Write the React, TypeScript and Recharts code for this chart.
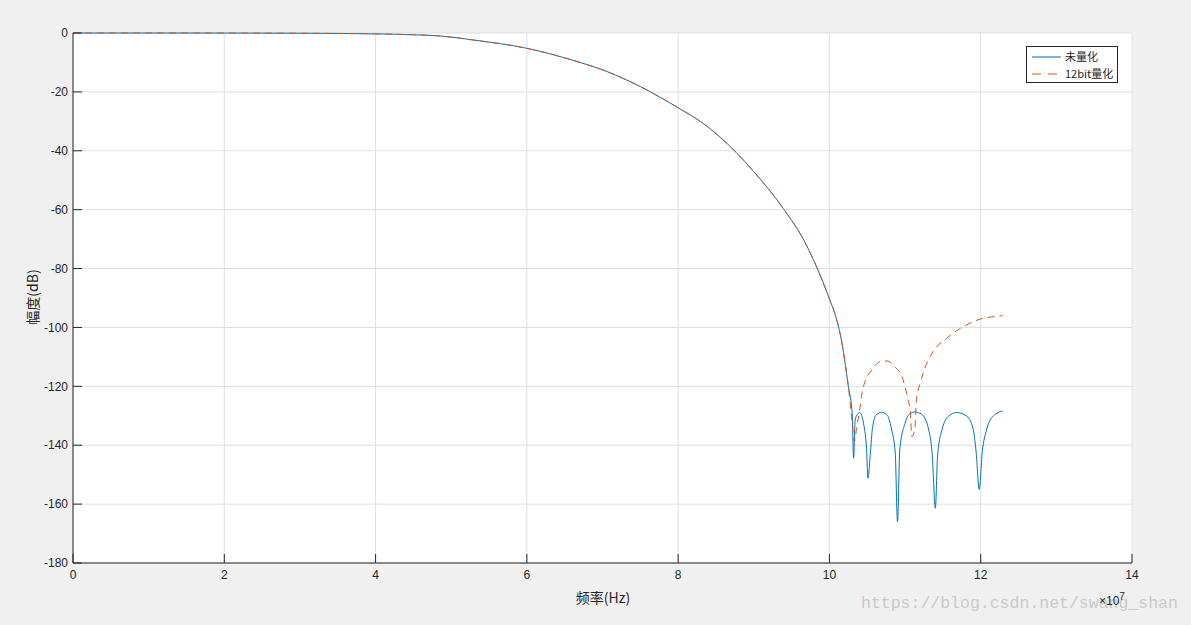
import React from "react";
import { LineChart, Line, XAxis, YAxis, CartesianGrid } from "recharts";

// frequency in units of 1e7 Hz, magnitude in dB
const FREQ_RAW = [
  0, 1, 2, 3, 3.5, 4, 4.5, 4.85, 5.3, 6, 6.6, 7.06, 7.5, 8, 8.33, 8.69, 9, 9.39, 9.66, 9.83, 10, 10.08, 10.15,
  10.25, 10.3, 10.32,
  10.34, 10.37, 10.4, 10.45, 10.49, 10.51, 10.54, 10.57, 10.62, 10.69, 10.76, 10.82, 10.87, 10.9, 10.93,
  11.0, 11.07, 11.13, 11.22, 11.31, 11.36, 11.4, 11.43, 11.49, 11.58, 11.68, 11.81, 11.9, 11.94, 11.98,
  12.02, 12.08, 12.17, 12.29,
];
const DB_RAW = [
  0, 0, -0.02, -0.08, -0.15, -0.3, -0.6, -1.0, -2.4, -5.2, -9.2, -13.1, -18.2, -25.4, -30.7, -38.6, -47.1,
  -59.6, -70.3, -79.4, -90.3, -96, -103.2,
  -120, -129, -144.4,
  -131.4, -129.5, -128.9, -132.5, -141, -151.2, -143, -134, -129.6, -128.9, -129.6, -134.5, -142.6, -166,
  -141.5, -132.5, -129.2, -128.7, -129.5, -134.5, -143.6, -161.4, -143.6, -134.5, -130, -128.9, -130,
  -134.5, -142.5, -155, -142.5, -134.5, -130, -128.4,
];

const FREQ_Q12 = [
  0, 1, 2, 3, 3.5, 4, 4.5, 4.85, 5.3, 6, 6.6, 7.06, 7.5, 8, 8.33, 8.69, 9, 9.39, 9.66, 9.83, 10, 10.08, 10.15,
  10.25, 10.3, 10.33,
  10.36, 10.4, 10.43, 10.47, 10.56, 10.67, 10.76, 10.87, 10.96, 11.01, 11.04, 11.07, 11.09, 11.13, 11.15,
  11.2, 11.26, 11.37, 11.55, 11.77, 11.99, 12.26, 12.29,
];
const DB_Q12 = [
  0, 0, -0.02, -0.08, -0.15, -0.3, -0.6, -1.0, -2.4, -5.2, -9.2, -13.1, -18.2, -25.4, -30.7, -38.6, -47.1,
  -59.6, -70.3, -79.4, -90.3, -96, -103.2,
  -120, -132, -138.8,
  -134, -128, -122.3, -118.4, -114.5, -111.6, -111.4, -113.5, -116.7, -121.2, -124.6, -129.2, -137.1, -134.3,
  -124.6, -119, -113.9, -108.2, -103.7, -99.7, -97.2, -96.1, -96.0,
];

const X_TICKS = [0, 2, 4, 6, 8, 10, 12, 14];
const Y_TICKS = [-180, -160, -140, -120, -100, -80, -60, -40, -20, 0];

const SERIES_NAMES = ["未量化", "12bit量化"];

const BLUE = "#0072BD";
const ORANGE = "#D95319";
const AXIS = "#262626";

const rawData = FREQ_RAW.map((f, i) => ({ f, db: DB_RAW[i] }));
const q12Data = FREQ_Q12.map((f, i) => ({ f, db: DB_Q12[i] }));

const tickFont = { fontSize: 12, fill: AXIS, fontFamily: "Liberation Sans, Arial, sans-serif" };

function LegendBox() {
  return (
    <div
      style={{
        position: "absolute",
        left: 1026,
        top: 46,
        width: 92,
        height: 37,
        background: "#fff",
        border: `1px solid ${AXIS}`,
        boxSizing: "border-box",
        fontFamily: "Noto Sans CJK SC, sans-serif",
        fontSize: 11,
        color: AXIS,
        padding: "1px 0 0 4px",
      }}
    >
      {SERIES_NAMES.map((name, i) => (
        <div key={name} style={{ display: "flex", alignItems: "center", height: 17 }}>
          <svg width={30} height={10}>
            <line
              x1={1}
              y1={5}
              x2={30}
              y2={5}
              stroke={i === 0 ? BLUE : ORANGE}
              strokeWidth={1}
              strokeDasharray={i === 0 ? undefined : "9 7"}
            />
          </svg>
          <span style={{ marginLeft: 4, lineHeight: "17px" }}>{name}</span>
        </div>
      ))}
    </div>
  );
}

export default function App() {
  return (
    <div
      style={{
        position: "absolute",
        left: 0,
        top: 0,
        width: 1191,
        height: 625,
        background: "#f0f0f0",
        overflow: "hidden",
      }}
    >
      <LineChart width={1191} height={625} margin={{ top: 33, right: 59, left: 13, bottom: 32 }}>
        <CartesianGrid fill="#fff" stroke="#dfdfdf" strokeWidth={1} />
        <XAxis
          type="number"
          dataKey="f"
          domain={[0, 14]}
          ticks={X_TICKS}
          allowDataOverflow
          height={30}
          stroke={AXIS}
          tickSize={-9}
          tickMargin={16}
          tick={tickFont}
        />
        <XAxis
          xAxisId="top"
          orientation="top"
          type="number"
          dataKey="f"
          domain={[0, 14]}
          ticks={X_TICKS}
          height={0}
          stroke={AXIS}
          tickSize={-9}
          tickFormatter={() => ""}
        />
        <YAxis
          type="number"
          domain={[-180, 0]}
          ticks={Y_TICKS}
          width={60}
          stroke={AXIS}
          tickSize={-9}
          tickMargin={14}
          tick={tickFont}
        />
        <YAxis
          yAxisId="right"
          orientation="right"
          type="number"
          domain={[-180, 0]}
          ticks={Y_TICKS}
          width={0}
          stroke={AXIS}
          tickSize={-9}
          tickFormatter={() => ""}
        />
        <Line
          data={rawData}
          type="monotone"
          dataKey="db"
          name={SERIES_NAMES[0]}
          stroke={BLUE}
          strokeWidth={1}
          dot={false}
          isAnimationActive={false}
        />
        <Line
          data={q12Data}
          type="monotone"
          dataKey="db"
          name={SERIES_NAMES[1]}
          stroke={ORANGE}
          strokeWidth={1}
          strokeDasharray="7 5"
          dot={false}
          isAnimationActive={false}
        />
      </LineChart>

      <LegendBox />

      <div
        style={{
          position: "absolute",
          left: 553,
          top: 587,
          width: 100,
          textAlign: "center",
          fontFamily: "Noto Sans CJK SC, sans-serif",
          fontSize: 14,
          color: AXIS,
        }}
      >
        频率(Hz)
      </div>
      <div
        style={{
          position: "absolute",
          left: -18,
          top: 287,
          width: 100,
          textAlign: "center",
          transform: "rotate(-90deg)",
          fontFamily: "Noto Sans CJK SC, sans-serif",
          fontSize: 14,
          color: AXIS,
        }}
      >
        幅度(dB)
      </div>
      <div
        style={{
          position: "absolute",
          left: 861,
          top: 594,
          fontFamily: "Liberation Mono, monospace",
          fontSize: 16.5,
          color: "#c9c9c9",
          whiteSpace: "nowrap",
        }}
      >
        https://blog.csdn.net/swang_shan
      </div>
      <div
        style={{
          position: "absolute",
          left: 1099,
          top: 591,
          fontFamily: "Liberation Sans, Arial, sans-serif",
          fontSize: 12,
          color: AXIS,
        }}
      >
        ×10<sup style={{ fontSize: 10, verticalAlign: 5 }}>7</sup>
      </div>
    </div>
  );
}
